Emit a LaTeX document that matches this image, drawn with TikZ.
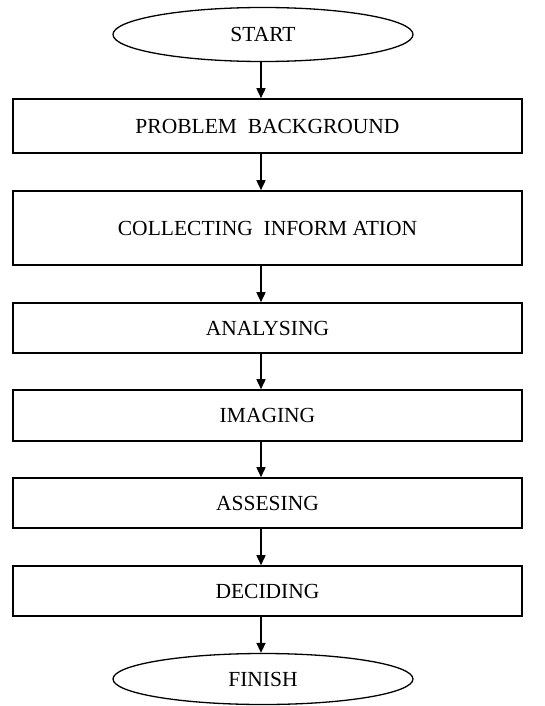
\documentclass[tikz,border=0pt]{standalone}
\usepackage{fontspec}
\setmainfont{Liberation Serif}
\usetikzlibrary{shapes.geometric,arrows.meta}
\begin{document}
\begin{tikzpicture}[x=1pt,y=-1pt,
  every node/.style={font=\fontsize{21.5}{25}\selectfont, text=black},
  term/.style={draw, ellipse, line width=1.3pt, minimum width=300pt, minimum height=54pt, inner sep=0pt},
  stepbox/.style={draw, rectangle, line width=1.6pt, minimum width=509pt, inner sep=0pt},
  flow/.style={draw, line width=1.6pt, -{Triangle[length=10pt,width=9pt]}}]
\useasboundingbox (0,0) rectangle (544,706);
\node[term] (start) at (263,34.5) {START};
\node[stepbox, minimum height=54pt] (b1) at (267.5,126) {PROBLEM\ \ BACKGROUND\hspace{6pt}};
\node[stepbox, minimum height=74pt] (b2) at (267.5,228) {COLLECTING\ \ INFORM\ ATION\hspace{6pt}};
\node[stepbox, minimum height=50pt] (b3) at (267.5,328) {ANALYSING\hspace{6pt}};
\node[stepbox, minimum height=51pt] (b4) at (267.5,415.5) {IMAGING\hspace{6pt}};
\node[stepbox, minimum height=50pt] (b5) at (267.5,503) {ASSESING\hspace{6pt}};
\node[stepbox, minimum height=50pt] (b6) at (267.5,591) {DECIDING\hspace{6pt}};
\node[term, minimum height=51pt] (finish) at (263,679) {FINISH};
\coordinate (ax) at (261,0);
\draw[flow] (start.south -| ax) -- (b1.north -| ax);
\draw[flow] (b1.south -| ax) -- (b2.north -| ax);
\draw[flow] (b2.south -| ax) -- (b3.north -| ax);
\draw[flow] (b3.south -| ax) -- (b4.north -| ax);
\draw[flow] (b4.south -| ax) -- (b5.north -| ax);
\draw[flow] (b5.south -| ax) -- (b6.north -| ax);
\draw[flow] (b6.south -| ax) -- (finish.north -| ax);
\end{tikzpicture}
\end{document}
